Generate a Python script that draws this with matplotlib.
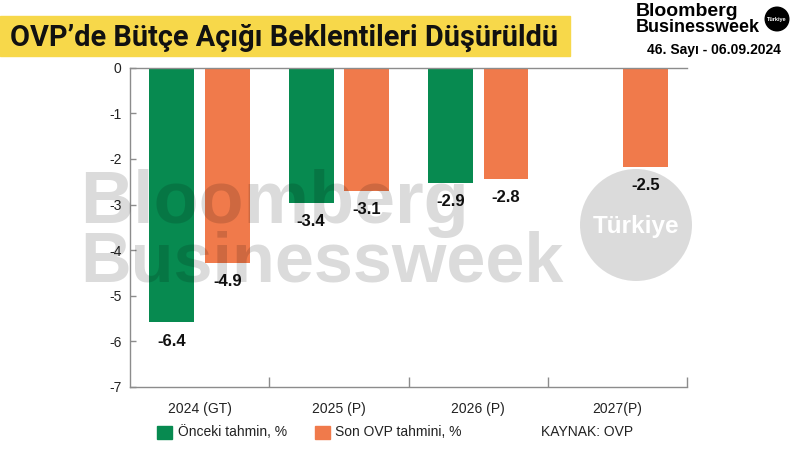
import numpy as np
import matplotlib
matplotlib.use("Agg")
import matplotlib.pyplot as plt
from matplotlib.patches import Rectangle, Ellipse

# data
years = ["2024 (GT)", "2025 (P)", "2026 (P)", "2027(P)"]
onceki = [-6.4, -3.4, -2.9, np.nan]
son_ovp = [-4.9, -3.1, -2.8, -2.5]
ytick_labels = ["0", "-1", "-2", "-3", "-4", "-5", "-6", "-7"]

GREEN = "#078A50"
ORANGE = "#F07A4B"
YELLOW = "#F7D84A"
TXT = "#222222"
AXC = "#8c8c8c"

# the source chart's y axis is not to scale: its "-7" sits at about -8.02
AXIS_FACTOR = 0.8725

plt.rcParams["font.family"] = ["Liberation Sans", "DejaVu Sans"]

fig = plt.figure(figsize=(8, 4.5), dpi=100)
ax = fig.add_axes([0.1625, 0.14, 0.6963, 0.7096])

x = np.arange(len(years))
w = 0.323
b1 = ax.bar(x - 0.2, onceki, w, color=GREEN, zorder=2)
b2 = ax.bar(x + 0.2, son_ovp, w, color=ORANGE, zorder=2)

for bars, vals in ((b1, onceki), (b2, son_ovp)):
    for rect, v in zip(bars, vals):
        if np.isnan(v):
            continue
        ax.annotate(f"{v:.1f}", (rect.get_x() + rect.get_width() / 2, v),
                    xytext=(0, -8), textcoords="offset points",
                    ha="center", va="top", fontsize=12, fontweight="bold",
                    color="#111111", zorder=5)

ax.set_xlim(-0.5, 3.5)
ax.set_ylim(-7 / AXIS_FACTOR, 0)
ax.set_yticks([-k / AXIS_FACTOR for k in range(8)])
ax.set_yticklabels(ytick_labels)

ax.set_xticks([0.5, 1.5, 2.5, 3.5])
ax.set_xticklabels([])
ax.set_xticks(x, minor=True)
ax.set_xticklabels(years, minor=True)
ax.tick_params(axis="x", which="major", direction="in", length=7, color=AXC, width=1)
ax.tick_params(axis="x", which="minor", length=0, pad=11, labelsize=10, labelcolor=TXT)
ax.tick_params(axis="y", direction="in", length=4, color=AXC, width=1,
               labelsize=10, labelcolor=TXT, pad=6)

for s in ("left", "bottom", "top"):
    ax.spines[s].set_color(AXC)
    ax.spines[s].set_linewidth(1)
ax.spines["right"].set_visible(False)

# title banner
fig.patches.append(Rectangle((0, 1 - 56 / 450), 570 / 800, 40 / 450,
                             transform=fig.transFigure, color=YELLOW, zorder=0))
fig.text(10 / 800, 1 - 46 / 450, "OVP’de Bütçe Açığı Beklentileri Düşürüldü",
         ha="left", va="baseline", fontsize=20.8, fontweight="bold", color="#111111",
         family=["Roboto", "DejaVu Sans"])

# logo top right
fig.text(636 / 800, 1 - 12 / 450, "Bloomberg", ha="left", va="center",
         fontsize=14, fontweight="bold", color="black")
fig.text(636 / 800, 1 - 28 / 450, "Businessweek", ha="left", va="center",
         fontsize=13, fontweight="bold", color="black")
fig.patches.append(Ellipse((777 / 800, 1 - 19 / 450), 25 / 800, 25 / 450,
                           transform=fig.transFigure, facecolor="black", edgecolor="none"))
fig.text(777 / 800, 1 - 19 / 450, "Türkiye", ha="center", va="center",
         fontsize=4, fontweight="bold", color="white")
fig.text(714 / 800, 1 - 50 / 450, "46. Sayı - 06.09.2024", ha="center", va="center",
         fontsize=10, fontweight="bold", color="black")

# watermark
fig.text(80 / 800, 1 - 223 / 450, "Bloomberg", ha="left", va="baseline",
         fontsize=53, fontweight="bold", color="black", alpha=0.14, zorder=4)
fig.text(80 / 800, 1 - 282 / 450, "Businessweek", ha="left", va="baseline",
         fontsize=50.5, fontweight="bold", color="black", alpha=0.14, zorder=4)
fig.patches.append(Ellipse((636 / 800, 1 - 225 / 450), 112 / 800, 112 / 450,
                           transform=fig.transFigure, facecolor="black",
                           edgecolor="none", alpha=0.14, zorder=4))
fig.text(636 / 800, 1 - 227 / 450, "Türkiye", ha="center", va="center",
         fontsize=17.5, fontweight="bold", color="white", zorder=5)

# legend row
ly = 1 - 432 / 450
fig.patches.append(Rectangle((157 / 800, ly - 7 / 450), 15 / 800, 13 / 450,
                             transform=fig.transFigure, color=GREEN))
fig.text(178 / 800, ly, "Önceki tahmin, %", ha="left", va="center", fontsize=10, color=TXT)
fig.patches.append(Rectangle((315 / 800, ly - 7 / 450), 15 / 800, 13 / 450,
                             transform=fig.transFigure, color=ORANGE))
fig.text(335 / 800, ly, "Son OVP tahmini, %", ha="left", va="center", fontsize=10, color=TXT)
fig.text(541 / 800, ly, "KAYNAK: OVP", ha="left", va="center", fontsize=10, color=TXT)

fig.savefig("out.png", dpi=100)
